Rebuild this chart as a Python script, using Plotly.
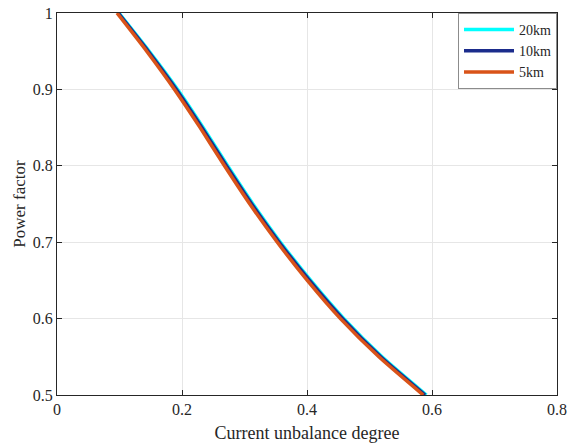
import plotly.graph_objects as go

# Power factor levels (y) and current unbalance degree (x)
power_factor = [1.00, 0.95, 0.90, 0.85, 0.80, 0.75, 0.70, 0.65, 0.60, 0.55, 0.50]
unbalance_5km = [0.096, 0.1435, 0.188, 0.229, 0.268, 0.3085, 0.3525, 0.4005, 0.4535, 0.515, 0.586]
unbalance_10km = [0.098, 0.1460, 0.191, 0.232, 0.271, 0.3115, 0.3555, 0.4040, 0.4570, 0.518, 0.589]
unbalance_20km = [0.099, 0.1475, 0.193, 0.234, 0.273, 0.3135, 0.3575, 0.4060, 0.4590, 0.520, 0.591]

x_ticks = [0, 0.2, 0.4, 0.6, 0.8]
x_tick_text = ["0", "0.2", "0.4", "0.6", "0.8"]
y_ticks = [0.5, 0.6, 0.7, 0.8, 0.9, 1.0]
y_tick_text = ["0.5", "0.6", "0.7", "0.8", "0.9", "1"]

series = [
    ("20km", unbalance_20km, "#00FFFF"),
    ("10km", unbalance_10km, "#1B2C8C"),
    ("5km", unbalance_5km, "#D95319"),
]

fig = go.Figure()
for name, xs, color in series:
    fig.add_trace(go.Scatter(
        x=xs, y=power_factor, mode="lines", name=name,
        line=dict(color=color, width=3.5, shape="spline", smoothing=0.6),
    ))

font_family = "Liberation Serif, Times New Roman, serif"
axis_common = dict(
    showline=True, linecolor="#262626", linewidth=1, mirror="allticks",
    ticks="inside", ticklen=5, tickcolor="#262626",
    showgrid=True, gridcolor="#E6E6E6", gridwidth=1, zeroline=False,
    tickfont=dict(family=font_family, size=16, color="#262626"),
    automargin=False,
)

fig.update_layout(
    width=567, height=443,
    margin=dict(l=57, r=10, t=13, b=48),
    plot_bgcolor="white", paper_bgcolor="white",
    font=dict(family=font_family, color="#262626"),
    xaxis=dict(range=[0, 0.8], tickvals=x_ticks, ticktext=x_tick_text,
               title=dict(text="Current unbalance degree", font=dict(family=font_family, size=18, color="#262626")),
               **axis_common),
    yaxis=dict(range=[0.5, 1.0], tickvals=y_ticks, ticktext=y_tick_text,
               title=dict(text="Power factor", font=dict(family=font_family, size=17, color="#262626"), standoff=2),
               **axis_common),
    legend=dict(
        x=1.0, y=1.0, xanchor="right", yanchor="top",
        bgcolor="white", bordercolor="#8C8C8C", borderwidth=1,
        font=dict(family=font_family, size=14, color="#262626"),
        itemwidth=50, tracegroupgap=0,
    ),
    showlegend=True,
)

fig.write_html("out.html")
